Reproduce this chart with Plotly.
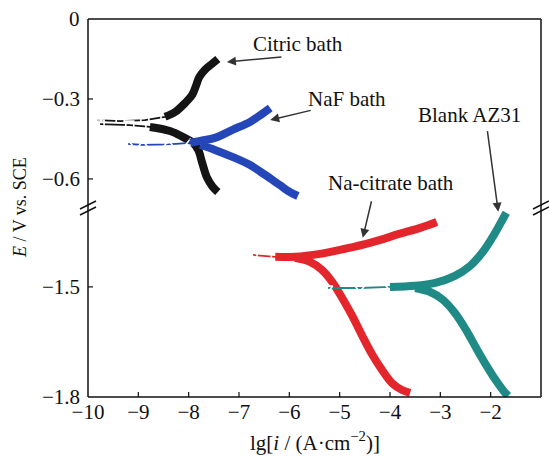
import plotly.graph_objects as go

# ---------------- data ----------------
# Citric bath (black, squares) - upper panel
citric_an_lgi = [-9.82, -9.36, -8.87, -8.47, -8.27, -8.07, -7.93, -7.85, -7.79, -7.68, -7.54, -7.42]
citric_an_E   = [-0.379, -0.383, -0.379, -0.367, -0.349, -0.315, -0.285, -0.248, -0.218, -0.191, -0.169, -0.150]
citric_ca_lgi = [-9.76, -9.17, -8.77, -8.37, -8.11, -7.91, -7.81, -7.73, -7.64, -7.52, -7.42]
citric_ca_E   = [-0.394, -0.398, -0.405, -0.420, -0.443, -0.465, -0.491, -0.540, -0.593, -0.630, -0.649]

# NaF bath (blue, triangles) - upper panel
naf_an_lgi = [-9.20, -8.91, -8.40, -7.97, -7.77, -7.48, -7.12, -6.78, -6.54, -6.38]
naf_an_E   = [-0.469, -0.472, -0.470, -0.465, -0.457, -0.446, -0.415, -0.386, -0.356, -0.334]
naf_ca_lgi = [-7.77, -7.48, -7.12, -6.78, -6.48, -6.19, -5.99, -5.83]
naf_ca_E   = [-0.472, -0.491, -0.518, -0.548, -0.585, -0.623, -0.649, -0.664]

# Na-citrate bath (red, circles) - lower panel
nacit_an_lgi = [-6.72, -6.28, -5.89, -5.39, -4.89, -4.40, -3.80, -3.40, -3.07]
nacit_an_E   = [-1.413, -1.418, -1.418, -1.410, -1.396, -1.380, -1.355, -1.339, -1.323]
nacit_ca_lgi = [-5.89, -5.59, -5.35, -5.15, -4.95, -4.75, -4.56, -4.36, -4.16, -3.96, -3.76, -3.60]
nacit_ca_E   = [-1.421, -1.432, -1.454, -1.486, -1.530, -1.579, -1.631, -1.683, -1.726, -1.762, -1.781, -1.789]

# Blank AZ31 (teal, inverted triangles) - lower panel
blank_an_lgi = [-5.23, -4.60, -4.00, -3.50, -3.10, -2.71, -2.41, -2.17, -1.97, -1.81, -1.69]
blank_an_E   = [-1.503, -1.503, -1.500, -1.497, -1.489, -1.470, -1.443, -1.407, -1.366, -1.328, -1.298]
blank_ca_lgi = [-3.50, -3.20, -2.95, -2.71, -2.49, -2.29, -2.09, -1.89, -1.73, -1.65]
blank_ca_E   = [-1.503, -1.514, -1.535, -1.571, -1.617, -1.666, -1.713, -1.756, -1.786, -1.797]

x_ticks = [-10, -9, -8, -7, -6, -5, -4, -3, -2, -1]
upper_ticks = [-0.6, -0.3, 0]
upper_labels = ["\u22120.6", "\u22120.3", "0"]
lower_ticks = [-1.8, -1.5]
lower_labels = ["\u22121.8", "\u22121.5"]

labels = ["Citric bath", "NaF bath", "Na-citrate bath", "Blank AZ31"]

# ---------------- style ----------------
FONT = "Liberation Serif"
INK = "#111111"
BLACK, BLUE, RED, TEAL = "#141414", "#2446b8", "#e3262b", "#1f8a86"
THICK = 8

fig = go.Figure()


def series(an_x, an_y, ca_x, ca_y, color, symbol, xaxis, yaxis, thin_until):
    for xs, ys in ((an_x, an_y), (ca_x, ca_y)):
        n_thin = len([x for x in xs if x <= thin_until])
        if n_thin:
            fig.add_trace(go.Scatter(x=xs[:n_thin + 1], y=ys[:n_thin + 1], mode="lines+markers",
                                     xaxis=xaxis, yaxis=yaxis,
                                     line=dict(color=color, width=1.8),
                                     marker=dict(symbol=symbol, size=8, color="white",
                                                 line=dict(color=color, width=1.6)),
                                     showlegend=False, hoverinfo="skip"))
        i0 = max(0, n_thin - 1)
        fig.add_trace(go.Scatter(x=xs[i0:], y=ys[i0:], mode="lines", xaxis=xaxis, yaxis=yaxis,
                                 line=dict(color=color, width=THICK, shape="spline"),
                                 showlegend=False, hoverinfo="skip"))


series(citric_an_lgi, citric_an_E, citric_ca_lgi, citric_ca_E, BLACK, "square-open", "x2", "y2", -8.4)
series(naf_an_lgi, naf_an_E, naf_ca_lgi, naf_ca_E, BLUE, "triangle-up-open", "x2", "y2", -7.9)
series(nacit_an_lgi, nacit_an_E, nacit_ca_lgi, nacit_ca_E, RED, "circle-open", "x", "y", -5.9)
series(blank_an_lgi, blank_an_E, blank_ca_lgi, blank_ca_E, TEAL, "triangle-down-open", "x", "y", -3.6)

tickfont = dict(family=FONT, size=21, color=INK)
axcommon = dict(showgrid=False, zeroline=False, showline=False, automargin=False, ticks="")

fig.update_layout(
    template="none",
    width=549, height=457,
    margin=dict(l=88, r=8, t=19, b=60, pad=0),
    paper_bgcolor="white", plot_bgcolor="white",
    font=dict(family=FONT, color=INK),
    xaxis=dict(domain=[0, 1], range=[-10, -1], anchor="y", tickvals=x_ticks,
               ticktext=[f"\u2212{abs(v)}" for v in x_ticks], tickfont=tickfont, **axcommon),
    xaxis2=dict(domain=[0, 1], range=[-10, -1], anchor="y2", showticklabels=False, **axcommon),
    yaxis=dict(domain=[0, 0.5], range=[-1.8, -1.285], anchor="x", showticklabels=False, **axcommon),
    yaxis2=dict(domain=[0.5, 1], range=[-0.709, 0], anchor="x2", showticklabels=False, **axcommon),
)

# y tick labels (placed next to the axis)
for ticks, texts, yr in ((lower_ticks, lower_labels, "y"), (upper_ticks, upper_labels, "y2")):
    for v, t in zip(ticks, texts):
        fig.add_annotation(x=-0.013, y=v, xref="paper", yref=yr, text=t, showarrow=False,
                           font=tickfont, xanchor="right", yanchor="middle")

frame = dict(color=INK, width=1.5)
# frame (drawn as shapes)
fig.add_shape(type="line", xref="paper", yref="paper", x0=0, x1=0, y0=0, y1=1, line=frame)
fig.add_shape(type="line", xref="paper", yref="paper", x0=1, x1=1, y0=0, y1=1, line=frame)
fig.add_shape(type="line", xref="paper", yref="paper", x0=0, x1=1, y0=0, y1=0, line=frame)
fig.add_shape(type="line", xref="paper", yref="paper", x0=0, x1=1, y0=1, y1=1, line=frame)

# inside tick marks
for v in x_ticks[1:-1]:
    fig.add_shape(type="line", xref="x", yref="paper", ysizemode="pixel", yanchor=0,
                  x0=v, x1=v, y0=0, y1=5, line=dict(color=INK, width=1.2))
for v in lower_ticks[1:]:
    fig.add_shape(type="line", xref="paper", yref="y", xsizemode="pixel", xanchor=0,
                  x0=0, x1=5, y0=v, y1=v, line=dict(color=INK, width=1.2))
for v in upper_ticks[:-1]:
    fig.add_shape(type="line", xref="paper", yref="y2", xsizemode="pixel", xanchor=0,
                  x0=0, x1=5, y0=v, y1=v, line=dict(color=INK, width=1.2))

# axis break marks "//"
for xp in (0, 1):
    for off in (-3, 3):
        fig.add_shape(type="line", xref="paper", yref="paper",
                      xsizemode="pixel", ysizemode="pixel", xanchor=xp, yanchor=0.5,
                      x0=-8, x1=8, y0=-4 + off, y1=4 + off,
                      line=dict(color=INK, width=1.5))

# arrows (head at curve tip)
ann_font = dict(family=FONT, size=21, color=INK)
arrows = [
    (-7.24, -0.161, "x2", "y2", 56, -5),
    (-6.38, -0.379, "x2", "y2", 42, -10),
    (-4.54, -1.366, "x", "y", 9, -38),
    (-1.85, -1.295, "x", "y", -11, -82),
]
for x, y, xr, yr, ax, ay in arrows:
    fig.add_annotation(x=x, y=y, xref=xr, yref=yr, ax=ax, ay=ay, text="",
                       showarrow=True, arrowhead=2, arrowsize=1.2, arrowwidth=1.5,
                       arrowcolor="#333")

label_pos = [(0.4636, 0.9339), (0.5717, 0.7884), (0.6689, 0.5661), (0.8411, 0.746)]
for txt, (px, py) in zip(labels, label_pos):
    fig.add_annotation(x=px, y=py, xref="paper", yref="paper", text=txt,
                       showarrow=False, font=ann_font, xanchor="center", yanchor="middle")

# axis titles
fig.add_annotation(x=-0.150, y=0.5, xref="paper", yref="paper", text="<i>E</i> / V vs. SCE",
                   textangle=-90, showarrow=False, font=dict(family=FONT, size=18, color=INK),
                   xanchor="center", yanchor="middle")
fig.add_annotation(x=0.501, y=-0.119, xref="paper", yref="paper",
                   text="lg[<i>i</i> / (A\u00b7cm<sup>\u22122</sup>)]",
                   showarrow=False, font=dict(family=FONT, size=21, color=INK),
                   xanchor="center", yanchor="middle")

fig.write_html("out.html", config={"displayModeBar": False},
               post_script="document.body.style.margin='0px';")
